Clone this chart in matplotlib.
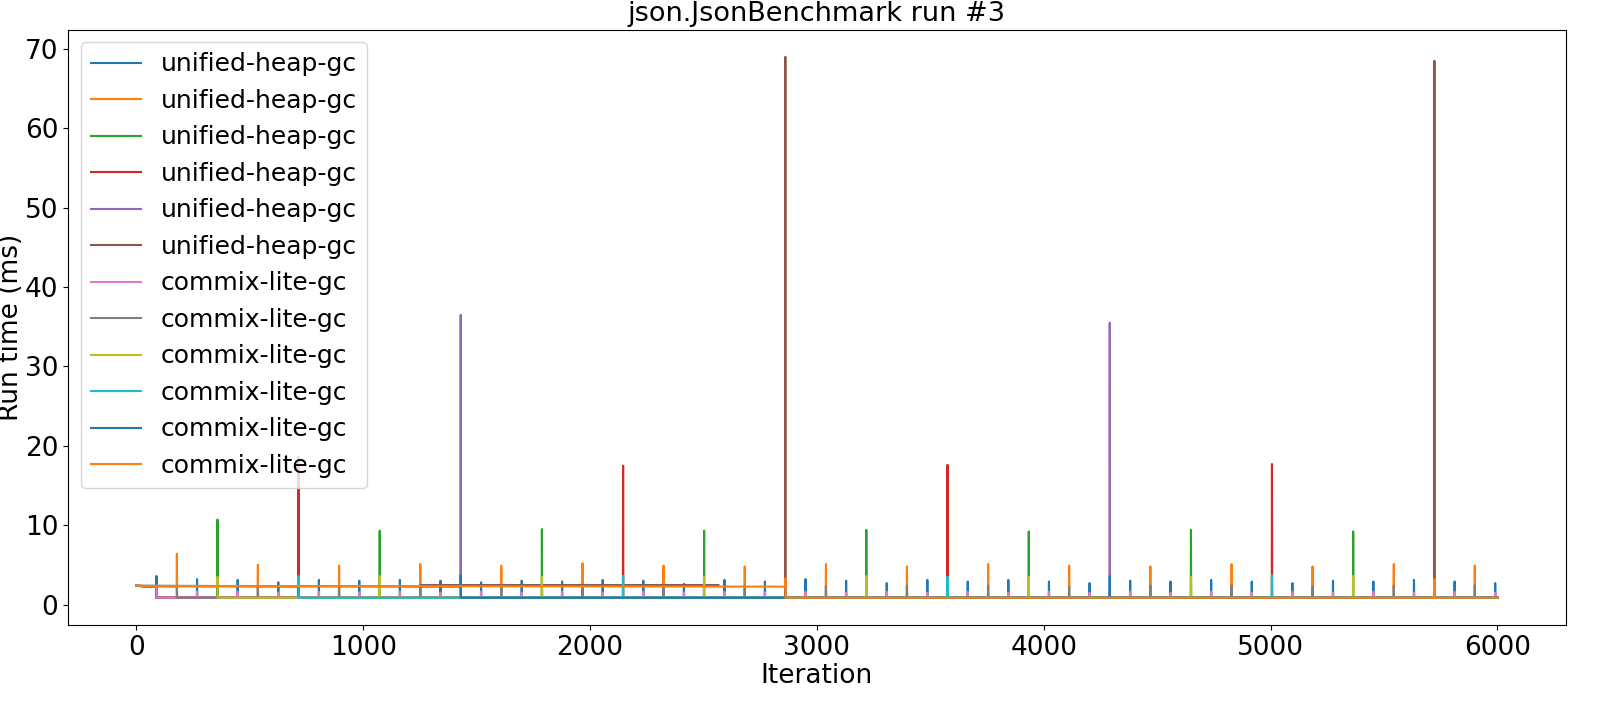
import matplotlib
matplotlib.use("Agg")
import matplotlib.pyplot as plt

plt.rcParams['font.size'] = 18

labels = ["unified-heap-gc"] * 6 + ["commix-lite-gc"] * 6

# iterations of the GC pauses, grouped by which run shows them on top
x_lvl0 = [89, 268, 447, 626, 805, 983, 1162, 1341, 1520, 1699, 1877, 2056,
          2235, 2414, 2593, 2771, 2950, 3129, 3308, 3487, 3665, 3844, 4023,
          4202, 4381, 4559, 4738, 4917, 5096, 5275, 5453, 5632, 5811, 5990]
x_lvl1 = [179, 536, 894, 1252, 1609, 1967, 2324, 2682, 3040, 3397, 3755,
          4112, 4470, 4828, 5185, 5543, 5900]
x_lvl2 = [358, 1073, 1788, 2503, 3218, 3934, 4649, 5364]
x_lvl3 = [715, 2146, 3576, 5006]
x_lvl4 = [1430, 4291]
x_lvl5 = [2861, 5722]

# unified-heap-gc peak run times (ms)
uh_blue = [3.6, 3.2, 3.1, 2.8, 3.1, 3.0, 3.1, 3.0, 2.8, 3.0, 2.9, 3.1,
           3.0, 2.6, 3.1, 2.9, 3.2, 3.0, 2.7, 3.1, 2.9, 3.1, 2.9,
           2.7, 3.0, 2.9, 3.1, 2.9, 2.7, 3.0, 2.9, 3.1, 2.9, 2.7]
uh_orange = [6.4, 5.0, 4.9, 5.1, 4.9, 5.2, 4.9, 4.8, 5.1, 4.8, 5.1,
             4.9, 4.8, 5.1, 4.8, 5.1, 4.9]
uh_green = [10.7, 9.3, 9.5, 9.3, 9.4, 9.2, 9.4, 9.2]
uh_red = [18.6, 17.5, 17.6, 17.7]
uh_purple = [36.5, 35.5]
uh_brown = [69.0, 68.5]

# commix-lite-gc peak run times (ms)
cl_pink = [2.3, 1.6, 1.6, 1.5, 1.6, 1.5, 1.6, 1.5, 1.6, 1.5, 1.6, 1.5,
           1.6, 1.5, 1.6, 1.5, 1.6, 1.5, 1.6, 1.5, 1.6, 1.5, 1.6,
           1.5, 1.6, 1.5, 1.6, 1.5, 1.6, 1.5, 1.6, 1.5, 1.6, 1.5]
cl_gray = [2.4, 2.4, 2.3, 2.4, 2.4, 2.3, 2.4, 2.4, 2.3, 2.4, 2.4,
           2.3, 2.4, 2.4, 2.3, 2.4, 2.4]
cl_olive = [3.5, 3.6, 3.5, 3.5, 3.6, 3.5, 3.5, 3.6]
cl_cyan = [3.6, 3.6, 3.5, 3.7]
cl_blue = [3.7, 3.6]
cl_orange = [3.3, 3.2]

uh_peaks = [(x_lvl0, uh_blue), (x_lvl1, uh_orange), (x_lvl2, uh_green),
            (x_lvl3, uh_red), (x_lvl4, uh_purple), (x_lvl5, uh_brown)]
cl_peaks = [(x_lvl0, cl_pink), (x_lvl1, cl_gray), (x_lvl2, cl_olive),
            (x_lvl3, cl_cyan), (x_lvl4, cl_blue), (x_lvl5, cl_orange)]

# first value, warm-up level, steady level, where each commix run settles
first_ms = 2.35
warm_ms = 2.25
steady_ms = 0.85
cl_settle = [89, 179, 358, 715, 1430, 2861]
uh_settle = 89
last_iter = 6000
# plateau only the last unified-heap run shows
brown_plateau = (1252, 2566, 2.45)


def series(settle, peaks_x, peaks_y):
    xs, ys = [0], [first_ms]
    settled = False
    for px, py in zip(peaks_x, peaks_y):
        if not settled and px >= settle:
            settled = True
            if px == settle:
                xs += [px - 1, px, px + 1]
                ys += [warm_ms, py, steady_ms]
                continue
            xs += [settle, settle]
            ys += [warm_ms, steady_ms]
        b = steady_ms if settled else warm_ms
        xs += [px - 1, px, px + 1]
        ys += [b, py, b]
    if not settled:
        xs += [settle, settle]
        ys += [warm_ms, steady_ms]
    xs.append(last_iter)
    ys.append(steady_ms)
    return xs, ys


fig, ax = plt.subplots(figsize=(16.24, 7.1), dpi=100)

for i, (px, py) in enumerate(uh_peaks):
    xs, ys = series(uh_settle, px, py)
    if i == 5:
        xs += [float('nan'), brown_plateau[0], brown_plateau[1]]
        ys += [float('nan'), brown_plateau[2], brown_plateau[2]]
    ax.plot(xs, ys, label=labels[i])

for j, (px, py) in enumerate(cl_peaks):
    xs, ys = series(cl_settle[j], px, py)
    ax.plot(xs, ys, label=labels[6 + j])

ax.set_title("json.JsonBenchmark run #3", fontsize=19.5)
ax.set_xlabel("Iteration", fontsize=19, labelpad=2)
ax.set_ylabel("Run time (ms)", fontsize=19, labelpad=1)
ax.tick_params(labelsize=19)
ax.legend(loc="upper left", fontsize=18)

fig.subplots_adjust(left=0.042, right=0.964, top=0.958, bottom=0.12)
fig.savefig("out.png")
